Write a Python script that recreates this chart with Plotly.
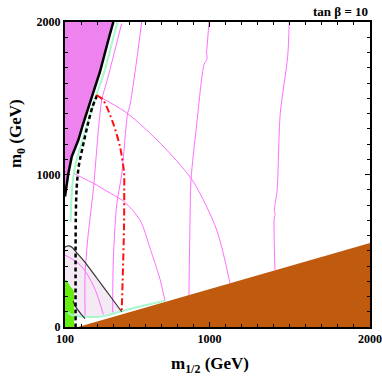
import plotly.graph_objects as go

# --- datos (m_1/2, m_0 en GeV) ---
# region prohibida (violeta, arriba a la izquierda) y su borde negro grueso
borde_x = [100, 104, 121, 142, 183, 214, 266, 318, 370, 401]
borde_y = [855, 892, 1008, 1117, 1226, 1336, 1510, 1674, 1882, 2000]

# region marron (stau LSP)
marron_x = [181, 2000, 2000]
marron_y = [0, 551, 0]

# region verde (abajo a la izquierda)
verde_x = [100, 110, 131, 156, 156, 100]
verde_y = [308, 306, 269, 236, 0, 0]

# linea negra fina que cierra la region lila
lila_x = [100, 110, 125, 145, 175, 220, 300, 380, 453]
lila_y = [522, 530, 532, 522, 485, 430, 318, 205, 100]

# segmento negro corto dentro de la zona verde
corto_x = [150, 168, 200, 225]
corto_y = [170, 130, 85, 55]

# franja verde clara junto al borde y junto a la region marron
franja1_x = [135, 138, 148, 168, 202, 238, 292, 347, 397, 427]
franja1_y = [690, 800, 950, 1080, 1200, 1330, 1510, 1680, 1880, 2000]
franja2_x = [118, 140, 173, 240, 297, 370, 443, 560, 650, 723]
franja2_y = [95, 80, 72, 67, 66, 78, 100, 133, 155, 172]

# curvas rosas casi verticales
rosa1_x = [453, 360, 329, 276, 240, 225, 225]
rosa1_y = [1990, 1607, 1489, 898, 560, 341, 70]
rosa2_x = [578, 505, 490, 453, 422, 401, 397]
rosa2_y = [2000, 1456, 1400, 1000, 800, 439, 95]
rosa3_x = [997, 986, 982, 985, 966, 920, 885, 879, 872]
rosa3_y = [2000, 1849, 1800, 1760, 1720, 1325, 964, 702, 210]
rosa4_x = [1497, 1487, 1441, 1421, 1404, 1410, 1404, 1408]
rosa4_y = [2000, 1772, 1401, 892, 760, 740, 720, 370]

# arcos rosas
arcoA_x = [297, 474, 600, 734, 899, 1045, 1128]
arcoA_y = [1521, 1412, 1300, 1161, 953, 636, 287]
arcoB_x = [152, 297, 349, 470, 567, 630, 690, 723]
arcoB_y = [1008, 931, 898, 820, 702, 516, 320, 172]
arcoC_x = [100, 183, 235, 290, 339]
arcoC_y = [472, 418, 352, 240, 82]

# linea negra discontinua
guion_x = [300, 270, 240, 210, 185, 172, 167, 166]
guion_y = [1520, 1440, 1320, 1180, 1050, 900, 700, 0]

# linea roja punto-raya
roja_x = [297, 337, 399, 443, 468, 469, 468, 459, 453]
roja_y = [1521, 1489, 1338, 1180, 1010, 892, 675, 302, 105]

x_ticks = [100, 1000, 2000]
y_ticks = [0, 1000, 2000]

ROSA = "#FF6EFF"
VERDE_CLARO = "#A6F7CC"
FUENTE = "Liberation Serif, Times New Roman, serif"

fig = go.Figure()

def relleno(x, y, color):
    fig.add_trace(go.Scatter(x=x, y=y, fill="toself", fillcolor=color,
                             mode="lines", line=dict(width=0, color=color),
                             hoverinfo="skip", showlegend=False))

def linea(x, y, color, ancho=1, dash="solid", forma="spline"):
    fig.add_trace(go.Scatter(x=x, y=y, mode="lines",
                             line=dict(color=color, width=ancho, dash=dash,
                                       shape=forma, smoothing=0.8),
                             hoverinfo="skip", showlegend=False))

# region lila bajo la linea negra fina, cerrada por la franja verde inferior
bajo_x = [x for x in franja2_x if x < lila_x[-1]][::-1]
bajo_y = [y for x, y in zip(franja2_x, franja2_y) if x < lila_x[-1]][::-1]
relleno(lila_x + bajo_x + [100], lila_y + bajo_y + [0], "#F4EAF5")
relleno(borde_x + [100], borde_y + [2000], "#EE82EE")
relleno(marron_x, marron_y, "#BF5A0E")
relleno(verde_x, verde_y, "#66EE11")

for xs, ys in [(rosa1_x, rosa1_y), (rosa2_x, rosa2_y), (rosa3_x, rosa3_y),
               (rosa4_x, rosa4_y), (arcoA_x, arcoA_y), (arcoB_x, arcoB_y),
               (arcoC_x, arcoC_y)]:
    linea(xs, ys, ROSA, 1)

linea(franja1_x, franja1_y, VERDE_CLARO, 2)
linea(franja2_x, franja2_y, VERDE_CLARO, 2)
linea(lila_x, lila_y, "#333333", 1.2)
linea(corto_x, corto_y, "#333333", 1.2)
linea(guion_x, guion_y, "black", 2.5, "4px,3px")
linea(roja_x, roja_y, "#FF1010", 2, "7px,3px,2px,3px")
linea(borde_x, borde_y, "black", 2.5, forma="linear")

eje = dict(showline=True, linecolor="black", linewidth=2, mirror="allticks",
           ticks="inside", ticklen=5, tickwidth=1, tickcolor="black",
           showgrid=False, zeroline=False, tickangle=0, automargin=False,
           tickfont=dict(family=FUENTE, size=12, color="black", weight="bold"),
           minor=dict(ticks="inside", ticklen=3, tickwidth=1, tickcolor="black",
                      dtick=100, tick0=0, showgrid=False))

fig.update_xaxes(range=[100, 2000], tickvals=x_ticks,
                 ticktext=[str(v) for v in x_ticks], **eje)
fig.update_yaxes(range=[0, 2000], tickvals=y_ticks,
                 ticktext=[str(v) for v in y_ticks], **eje)

fig.add_annotation(text="<b>m<sub>0</sub> (GeV)</b>", xref="paper", yref="paper",
                   x=-0.157, y=0.633, xanchor="center", yanchor="middle",
                   textangle=-90, showarrow=False,
                   font=dict(family=FUENTE, size=17, color="black"))
fig.add_annotation(text="<b>m<sub>1/2</sub> (GeV)</b>", xref="paper", yref="paper",
                   x=0.475, y=-0.125, xanchor="center", yanchor="middle",
                   showarrow=False,
                   font=dict(family=FUENTE, size=17, color="black"))
fig.add_annotation(text="<b>tan \u03b2 = 10</b>", xref="paper", yref="paper",
                   x=1.0, y=1.036, xanchor="right", yanchor="middle",
                   showarrow=False,
                   font=dict(family=FUENTE, size=13, color="black"))

fig.update_layout(width=382, height=382, margin=dict(l=65, r=12, t=22, b=55),
                  plot_bgcolor="white", paper_bgcolor="white")

fig.write_html("out.html", config={"displayModeBar": False},
               post_script="document.body.style.margin='0';")
